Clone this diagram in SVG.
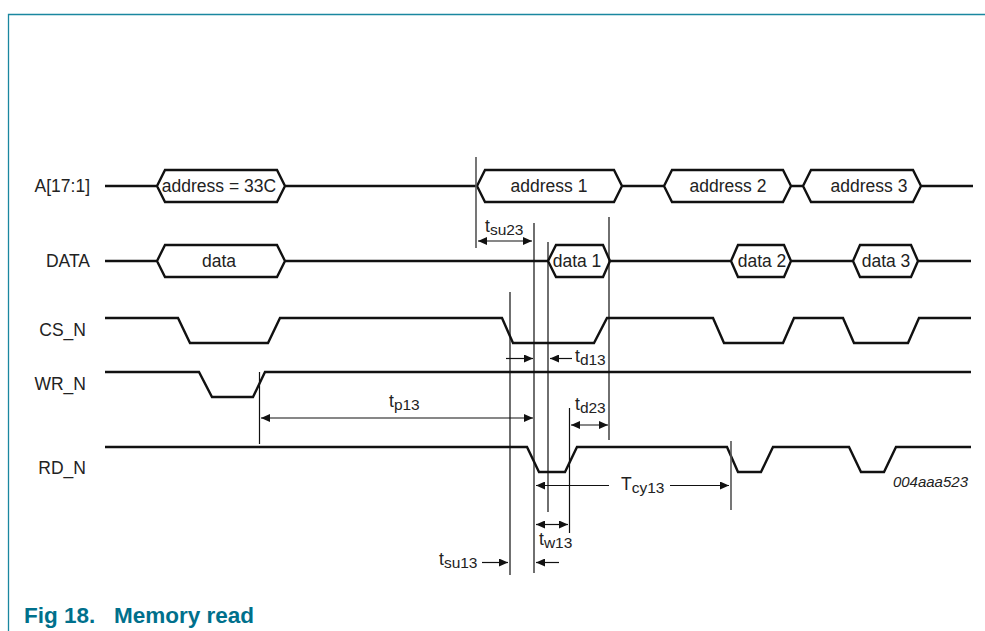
<svg xmlns="http://www.w3.org/2000/svg" width="985" height="631" viewBox="0 0 985 631">
<defs>
<marker id="a" viewBox="0 0 9 8" refX="9" refY="4" markerWidth="9" markerHeight="8" markerUnits="userSpaceOnUse" orient="auto-start-reverse"><path d="M0 0L9 4L0 8Z" fill="#111"/></marker>
</defs>
<style>
text{font-family:"Liberation Sans",Arial,sans-serif;font-size:17.500px;fill:#222}
.m{text-anchor:middle}
.sub{font-size:15.500px}
.w{fill:none;stroke:#111;stroke-width:2.400;stroke-linejoin:miter}
.v{fill:none;stroke:#111;stroke-width:1.200}
.g{fill:none;stroke:#555;stroke-width:1.600}
.d{fill:none;stroke:#111;stroke-width:1.200;marker-end:url(#a)}
.b{fill:none;stroke:#111;stroke-width:1.200;marker-start:url(#a);marker-end:url(#a)}
</style>
<rect width="985" height="631" fill="#fff"/>
<path d="M8.500 631V14.500H985" fill="none" stroke="#1a87a0" stroke-width="1.300"/>
<g id="signal-a">
<text x="90" y="192" text-anchor="end">A[17:1]</text>
<path class="w" d="M105 186H157L165 170H277L285 186L277 202H165L157 186M285 186H477L485 170H614L622 186L614 202H485L477 186M622 186H664L672 170H783L791 186L783 202H672L664 186M791 186H803L811 170H913L921 186L913 202H811L803 186M921 186H973"/>
<text class="m" x="219" y="191.500">address = 33C</text>
<text class="m" x="549" y="191.500">address 1</text>
<text class="m" x="728" y="191.500">address 2</text>
<text class="m" x="869" y="191.500">address 3</text>
</g>
<g id="signal-data">
<text x="90" y="267" text-anchor="end">DATA</text>
<path class="w" d="M105 261H157L165 245H277L285 261L277 277H165L157 261M285 261H548L556 245H603L610 261L603 277H556L548 261M610 261H731L738 245H784L791 261L784 277H738L731 261M791 261H853L860 245H911L918 261L911 277H860L853 261M918 261H971"/>
<text class="m" x="219" y="266.500">data</text>
<text class="m" x="577" y="266.500">data 1</text>
<text class="m" x="762" y="266.500">data 2</text>
<text class="m" x="886" y="266.500">data 3</text>
</g>
<g id="signal-cs">
<text x="86" y="335.500" text-anchor="end">CS_N</text>
<path class="w" d="M105 318H178L190 343H268L280 318H502L513 343H594L607 318H713L724 343H783L794 318H843L854 343H908L919 318H971"/>
</g>
<g id="signal-wr">
<text x="86" y="390" text-anchor="end">WR_N</text>
<path class="w" d="M105 372H199L212 397H253L265 372H971"/>
</g>
<g id="signal-rd">
<text x="86" y="474" text-anchor="end">RD_N</text>
<path class="w" d="M105 447H527L539 472H565L577 447H727L738 472H761L773 447H849L861 472H884L896 447H971"/>
</g>
<g id="connectors">
<path class="g" d="M476 157V248M731 441V510"/>
<path class="v" d="M534 223V573M548 242V512M510 292V575M609 217V440M569.500 408V533M259.500 372V444"/>
<path class="b" d="M478 241H532"/>
<path class="d" d="M506 358.500H533"/>
<path class="d" d="M572 358.500H550"/>
<path class="b" d="M261 418H533"/>
<path class="b" d="M571 425H608"/>
<path class="d" d="M609 485.500H536"/>
<path class="d" d="M670 485.500H729"/>
<path class="b" d="M536 524.500H568"/>
<path class="d" d="M482 562.500H508"/>
<path class="d" d="M559 562.500H536"/>
</g>
<g id="labels">
<text x="485" y="232">t<tspan class="sub" dy="3">su23</tspan></text>
<text x="575" y="362">t<tspan class="sub" dy="3">d13</tspan></text>
<text x="389" y="407">t<tspan class="sub" dy="3">p13</tspan></text>
<text x="575" y="410">t<tspan class="sub" dy="3">d23</tspan></text>
<text x="621" y="490">T<tspan class="sub" dy="3">cy13</tspan></text>
<text x="539" y="545">t<tspan class="sub" dy="3">w13</tspan></text>
<text x="439" y="565">t<tspan class="sub" dy="3">su13</tspan></text>
<text x="968" y="487" text-anchor="end" style="font-size:15px;font-style:italic">004aaa523</text>
<text x="24" y="623" style="font-size:22.500px;font-weight:bold;fill:#00708c" xml:space="preserve">Fig 18.   Memory read</text>
</g>
</svg>
